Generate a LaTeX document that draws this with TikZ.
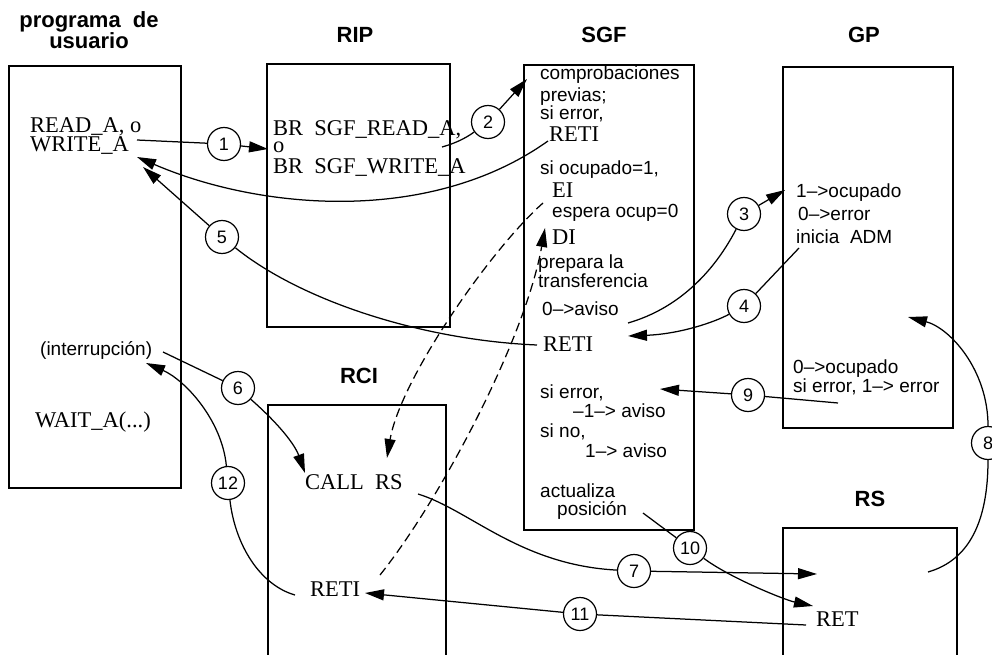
\documentclass[tikz,border=0pt]{standalone}
\usepackage{fontspec}
\setmainfont{Liberation Serif}
\setsansfont{Liberation Sans}
\usetikzlibrary{arrows.meta}
\tikzset{
 box/.style={draw, line width=1.4pt},
 ser/.style={font=\fontsize{22.5}{18}\selectfont, inner sep=0pt, anchor=base west, align=left},
 san/.style={font=\sffamily\fontsize{19}{19}\selectfont, inner sep=0pt, anchor=base west},
 ttl/.style={font=\sffamily\bfseries\fontsize{22}{19}\selectfont, inner sep=0pt, anchor=base, align=center},
 num/.style={circle, draw, line width=1.2pt, minimum size=33pt, inner sep=0pt, font=\sffamily\fontsize{18}{18}\selectfont},
 con/.style={line width=1.25pt},
 arr/.style={con, -{Triangle[length=19pt,width=11pt]}},
 darr/.style={arr, dash pattern=on 9pt off 5pt},
}
\begin{document}
\begin{tikzpicture}[x=1pt,y=-1pt]
\useasboundingbox (0,0) rectangle (992,655);
% boxes
\draw[box] (9,66) rectangle (181,488);
\draw[box] (267,64) rectangle (450,327);
\draw[box] (524,65) rectangle (694,530);
\draw[box] (783,67) rectangle (953,428);
\draw[box] (268,665) -- (268,405) -- (446,405) -- (446,665);
\draw[box] (783,665) -- (783,528) -- (957,528) -- (957,665);
% titles
\node[ttl] (tprog) at (89,49) {programa\ \ de\\usuario};
\node[ttl] (trip) at (355,43) {RIP};
\node[ttl] (tsgf) at (604,43) {SGF};
\node[ttl] (tgp) at (864,43) {GP};
\node[ttl] (trci) at (359,383) {RCI};
\node[ttl] (trs) at (870,506) {RS};
% programa de usuario
\node[ser] (readA) at (30,152) {READ\_A, o\\WRITE\_A};
\node[san] (interr) at (40,355) {(interrupción)};
\node[ser] (waitA) at (35,427) {WAIT\_A(...)};
% RIP
\node[ser] (brread) at (273,174) {BR\ \ SGF\_READ\_A,\\[-1pt]o\\[3pt]BR\ \ SGF\_WRITE\_A};
% SGF
\node[san] (s1) at (540,80) {comprobaciones};
\node[san] (s2) at (540,102) {previas;};
\node[san] (s3) at (540,120) {si error,};
\node[ser] (reti1) at (549,142) {RETI};
\node[san] (s4) at (540,175) {si ocupado=1,};
\node[ser] (ei) at (552,197) {EI};
\node[san] (s5) at (552,217) {espera ocup=0};
\node[ser] (di) at (552,244) {DI};
\node[san] (s6) at (538,268) {prepara la};
\node[san] (s7) at (538,287) {transferencia};
\node[san] (s8) at (542,315) {0–>aviso};
\node[ser] (reti2) at (543,351) {RETI};
\node[san] (s9) at (540,398) {si error,};
\node[san] (s10) at (573,417) {–1–> aviso};
\node[san] (s11) at (540,437) {si no,};
\node[san] (s12) at (585,457) {1–> aviso};
\node[san] (s13) at (540,497) {actualiza};
\node[san] (s14) at (557,515) {posición};
% GP
\node[san] (g1) at (796,197) {1–>ocupado};
\node[san] (g2) at (798,220) {0–>error};
\node[san] (g3) at (796,243) {inicia\ \ ADM};
\node[san] (g4) at (793,373) {0–>ocupado};
\node[san] (g5) at (793,392) {si error, 1–> error};
% RCI, RS
\node[ser] (callrs) at (305,489) {CALL\ \ RS};
\node[ser] (reti3) at (310,596) {RETI};
\node[ser] (ret) at (816,626) {RET};
% numbered circles
\node[num] (c1) at (224,144) {1};
\node[num] (c2) at (488,122) {2};
\node[num] (c3) at (744,214) {3};
\node[num] (c4) at (744,306) {4};
\node[num] (c5) at (222,237) {5};
\node[num] (c6) at (238,388) {6};
\node[num] (c7) at (634,571) {7};
\node[num] (c8) at (988,443) {8};
\node[num] (c9) at (748,395) {9};
\node[num] (c10) at (690,548) {10};
\node[num] (c11) at (580,614) {11};
\node[num] (c12) at (228,483) {12};
% endpoints
\coordinate (p1a) at (137,140);
\coordinate (p1b) at (268,149);
\coordinate (p2a) at (442,147);
\coordinate (p2b) at (527,79);
\coordinate (pra) at (548,141);
\coordinate (prb) at (137,157);
\coordinate (p3a) at (628,323);
\coordinate (p3b) at (785,190);
\coordinate (p4a) at (799,248);
\coordinate (p4b) at (628,336);
\coordinate (p5a) at (537,345);
\coordinate (p5b) at (143,167);
\coordinate (p6a) at (163,352);
\coordinate (p6b) at (305,473);
\coordinate (p7a) at (418,494);
\coordinate (p7b) at (817,574);
\coordinate (p8a) at (928,572);
\coordinate (p8b) at (908,317);
\coordinate (p9a) at (838,403);
\coordinate (p9b) at (660,389);
\coordinate (p10a) at (643,513);
\coordinate (p10b) at (813,606);
\coordinate (p11a) at (806,625);
\coordinate (p11b) at (365,593);
\coordinate (p12a) at (295,595);
\coordinate (p12b) at (146,363);
\coordinate (d1a) at (543,203);
\coordinate (d1b) at (387,458);
\coordinate (d2a) at (380,575);
\coordinate (d2b) at (545,228);
% connectors
\draw[con] (p1a) -- (c1);
\draw[arr] (c1) -- (p1b);
\draw[con] (p2a) .. controls (460,142) and (470,135) .. (c2);
\draw[arr] (c2) -- (p2b);
\draw[arr] (pra) .. controls (430,225) and (260,210) .. (prb);
\draw[con] (p3a) .. controls (680,308) and (715,270) .. (c3);
\draw[arr] (c3) -- (p3b);
\draw[con] (p4a) -- (c4);
\draw[arr] (c4) .. controls (715,322) and (680,334) .. (p4b);
\draw[con] (p5a) .. controls (420,340) and (300,300) .. (c5);
\draw[arr] (c5) -- (p5b);
\draw[con] (p6a) -- (c6);
\draw[arr] (c6) .. controls (280,425) and (295,445) .. (p6b);
\draw[con] (p7a) .. controls (470,510) and (520,565) .. (c7);
\draw[arr] (c7) -- (p7b);
\draw[con] (p8a) .. controls (970,560) and (988,520) .. (c8);
\draw[arr] (c8) .. controls (988,370) and (950,328) .. (p8b);
\draw[con] (p9a) -- (c9);
\draw[arr] (c9) -- (p9b);
\draw[con] (p10a) -- (c10);
\draw[arr] (c10) .. controls (730,578) and (785,600) .. (p10b);
\draw[con] (p11a) -- (c11);
\draw[arr] (c11) -- (p11b);
\draw[con] (p12a) .. controls (260,585) and (235,545) .. (c12);
\draw[arr] (c12) .. controls (222,420) and (185,380) .. (p12b);
\draw[darr] (d1a) .. controls (490,250) and (400,380) .. (d1b);
\draw[darr] (d2a) .. controls (440,500) and (525,340) .. (d2b);
\end{tikzpicture}
\end{document}
